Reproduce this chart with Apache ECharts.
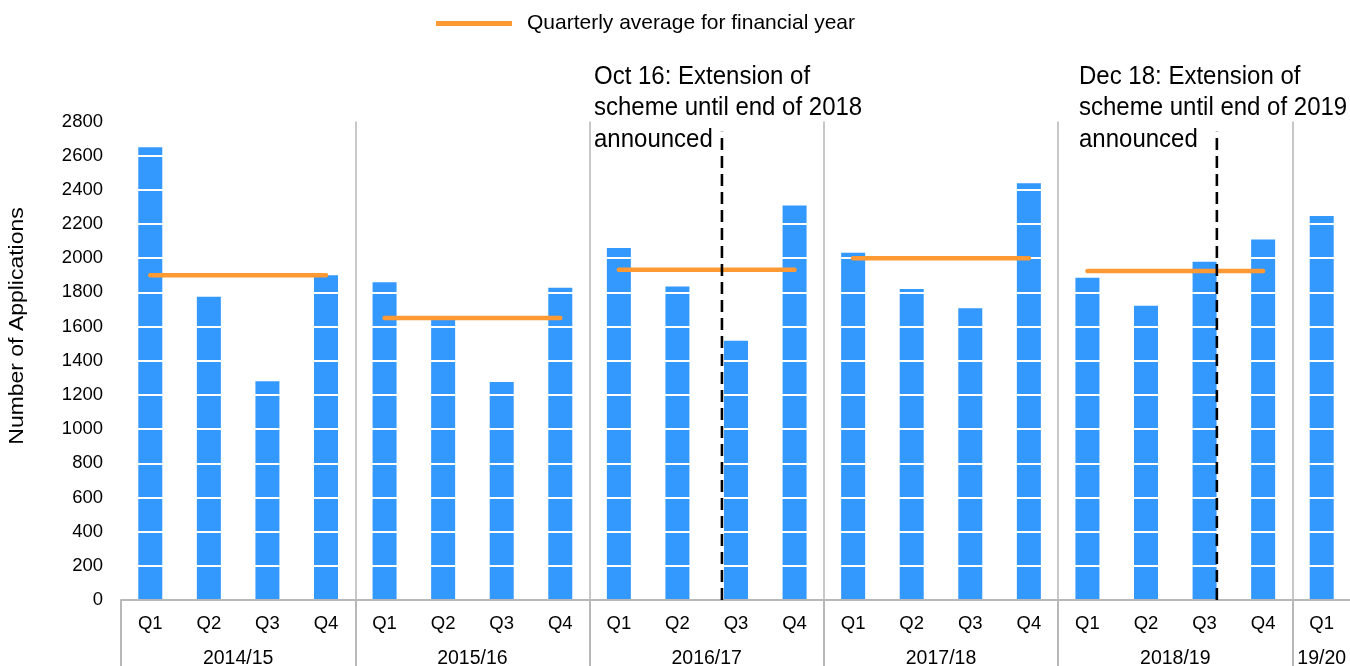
<!DOCTYPE html>
<html>
<head>
<meta charset="utf-8">
<script src="https://cdn.jsdelivr.net/npm/echarts@6/dist/echarts.min.js"></script>
<style>
html,body{margin:0;padding:0;background:#fff;}
#chart{width:1350px;height:666px;}
</style>
</head>
<body>
<div id="chart"></div>
<script>
// ---- data ----
const quarters = ['Q1','Q2','Q3','Q4','Q1','Q2','Q3','Q4','Q1','Q2','Q3','Q4','Q1','Q2','Q3','Q4','Q1','Q2','Q3','Q4','Q1'];
const applications = [2650,1775,1280,1900, 1860,1640,1275,1827, 2060,1835,1517,2309, 2032,1820,1707,2438, 1886,1722,1980,2110, 2247];
const yearLabels = ['2014/15','2015/16','2016/17','2017/18','2018/19','19/20'];
const quartersPerYear = [4,4,4,4,4,1];
const yearAverages = [1900,1650,1933,2000,1925];
const eventPositions = [9.76, 18.21];      // position on the quarter scale
const eventLineTop = [2740, 2740];
const eventTexts = [
  'Oct 16: Extension of\nscheme until end of 2018\nannounced',
  'Dec 18: Extension of\nscheme until end of 2019\nannounced'
];
const yTicks = {min:0, max:2800, interval:200};
const legendName = 'Quarterly average for financial year';

// ---- derived structure ----
const yearStarts = [];
let acc = 0;
quartersPerYear.forEach(n => { yearStarts.push(acc); acc += n; });
const yearCenters = yearStarts.map((s,i) => s + (quartersPerYear[i]-1)/2);

const FONT = '"Liberation Sans", Arial, sans-serif';
const chart = echarts.init(document.getElementById('chart'), null, {renderer:'canvas'});

const series = [{
  type:'bar', name:'Applications', xAxisIndex:0, yAxisIndex:0,
  data: applications, barWidth:24, itemStyle:{color:'#3399FF'}, z:2, silent:true
}];
yearAverages.forEach((v,i) => {
  const s = yearStarts[i], e = s + quartersPerYear[i] - 1;
  series.push({
    type:'line', name:legendName, xAxisIndex:1, yAxisIndex:0,
    data:[[s,v],[e,v]], symbol:'none', color:'#FF9933',
    lineStyle:{color:'#FF9933', width:4.5, cap:'round'}, z:6, silent:true
  });
});
eventPositions.forEach((p,i) => {
  series.push({
    type:'line', name:'event'+i, xAxisIndex:1, yAxisIndex:0,
    data:[[p,0],[p,eventLineTop[i]]], symbol:'none',
    lineStyle:{color:'#000', width:2.6, type:[12,6]}, z:7, silent:true
  });
});

const option = {
  animation:false,
  textStyle:{fontFamily:FONT, color:'#000'},
  grid:{left:121, right:-1, top:121.5, bottom:66, containLabel:false, outerBoundsMode:'none'},
  legend:{
    data:[{name:legendName, icon:'rect'}],
    left:436, top:13, padding:0,
    itemWidth:76, itemHeight:5,
    textStyle:{fontSize:21, color:'#000', fontFamily:FONT, padding:[0,0,0,10]}
  },
  xAxis:[{
    type:'category', data:quarters, position:'bottom', z:4,
    axisLine:{show:true, lineStyle:{color:'#B8B8B8', width:2}},
    axisTick:{show:true, length:66, interval:(i)=>yearStarts.indexOf(i)>=0, lineStyle:{color:'#B8B8B8', width:2}},
    splitLine:{show:true, interval:(i)=>i!==0 && yearStarts.indexOf(i)>=0, lineStyle:{color:'#C8C8C8', width:2}},
    axisLabel:{fontSize:18.5, color:'#000', margin:14, interval:0}
  },{
    type:'value', min:-0.5, max:quarters.length-0.5, interval:0.5, position:'bottom', z:4,
    axisLine:{show:false}, axisTick:{show:false}, splitLine:{show:false},
    axisLabel:{
      fontSize:19.5, color:'#000', margin:49, showMinLabel:true, showMaxLabel:true,
      formatter:(v)=>{
        for (let i=0;i<yearCenters.length;i++){ if (Math.abs(v-yearCenters[i])<1e-6) return yearLabels[i]; }
        return '';
      }
    }
  }],
  yAxis:[{
    type:'value', min:yTicks.min, max:yTicks.max, interval:yTicks.interval, z:3,
    axisLine:{show:false}, axisTick:{show:false},
    axisLabel:{fontSize:18.5, color:'#000', margin:18, formatter:(v)=>String(v)},
    splitLine:{show:true, lineStyle:{color:'#FFFFFF', width:2}}
  }],
  graphic:[
    {type:'text', x:17.5, y:326, rotation:Math.PI/2, scaleX:1.12,
     style:{text:'Number of Applications', fontSize:20.5, fontFamily:FONT, fill:'#000', align:'center', verticalAlign:'middle'}},
    {type:'text', x:594, y:61, scaleY:1.1,
     style:{text:eventTexts[0], fontSize:24, lineHeight:28.5, fontFamily:FONT, fill:'#000', align:'left', verticalAlign:'top'}},
    {type:'text', x:1079, y:61, scaleY:1.1,
     style:{text:eventTexts[1], fontSize:24, lineHeight:28.5, fontFamily:FONT, fill:'#000', align:'left', verticalAlign:'top'}}
  ],
  series: series
};
chart.setOption(option);
</script>
</body>
</html>
